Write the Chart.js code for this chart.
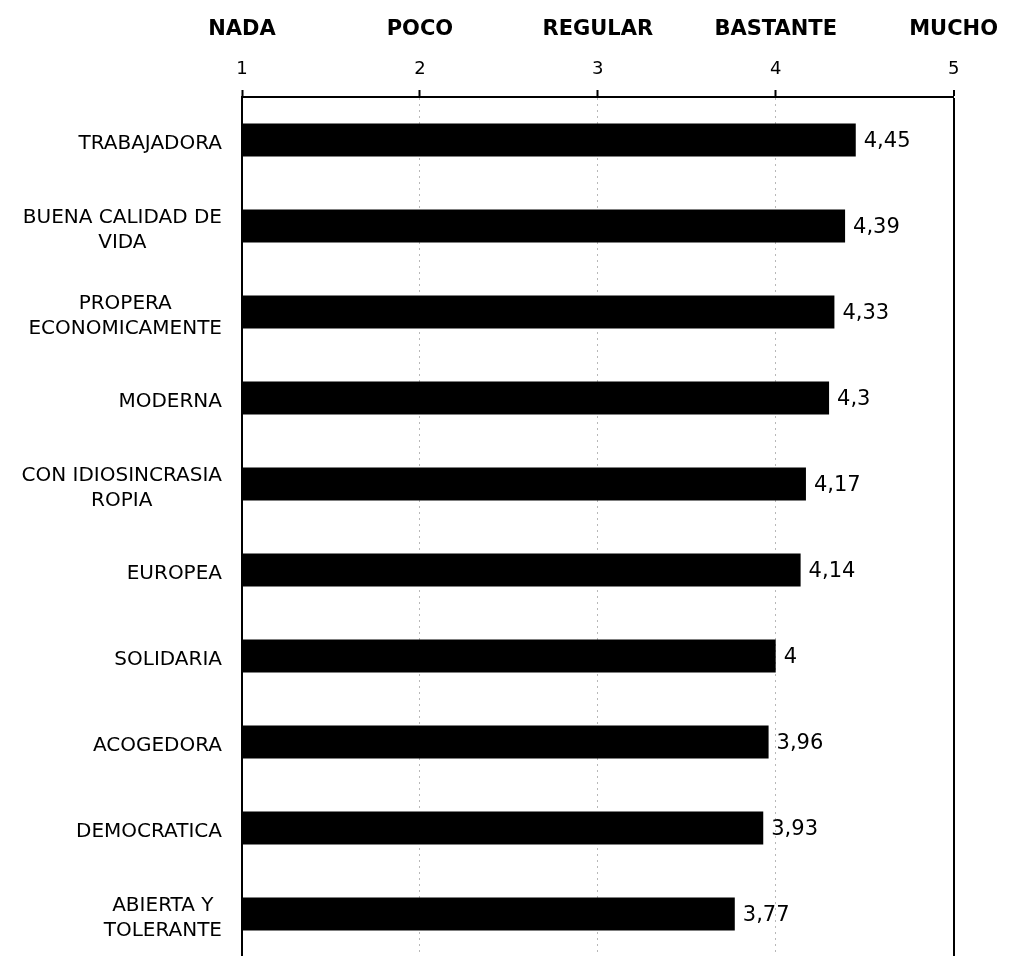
<!DOCTYPE html>
<html>
<head>
<meta charset="utf-8">
<script src="https://cdn.jsdelivr.net/npm/chart.js@4/dist/chart.umd.min.js"></script>
<style>
  html, body { margin: 0; padding: 0; background: #fff; overflow: hidden; }
  #wrap { width: 1014px; height: 957px; }
</style>
</head>
<body>
<div id="wrap"><canvas id="imagenChart"></canvas></div>
<script>
// === Chart data ===
const categories = [
  'TRABAJADORA',
  ['BUENA CALIDAD DE', 'VIDA'],
  ['PROPERA', 'ECONOMICAMENTE'],
  'MODERNA',
  ['CON IDIOSINCRASIA', 'ROPIA'],
  'EUROPEA',
  'SOLIDARIA',
  'ACOGEDORA',
  'DEMOCRATICA',
  ['ABIERTA Y', 'TOLERANTE']
];
const values = [4.45, 4.39, 4.33, 4.3, 4.17, 4.14, 4, 3.96, 3.93, 3.77];
const scaleTicks = [1, 2, 3, 4, 5];
const scaleNames = ['NADA', 'POCO', 'REGULAR', 'BASTANTE', 'MUCHO'];

const FONT = "'DejaVu Sans', Verdana, sans-serif";

document.addEventListener('DOMContentLoaded', function () {

  // === Plugin: category labels (block right aligned, lines centered) and values ===
  const labelsPlugin = {
    id: 'labelsPlugin',
    afterDraw(chart) {
      const c = chart.ctx;
      const yScale = chart.scales.y;
      c.save();
      c.fillStyle = '#000';
      c.font = '20px ' + FONT;
      c.textBaseline = 'middle';
      c.textAlign = 'center';
      const right = yScale.right - 20;
      const lineH = 25;
      chart.data.labels.forEach((lab, i) => {
        const lines = Array.isArray(lab) ? lab : [lab];
        const w = Math.max(...lines.map(l => c.measureText(l).width));
        const cx = right - w / 2;
        const y0 = yScale.getPixelForTick(i) + 4 - (lines.length - 1) * lineH / 2;
        lines.forEach((l, k) => c.fillText(l, cx, y0 + k * lineH));
      });

      // value labels at bar ends
      c.font = '21px ' + FONT;
      c.textAlign = 'left';
      const meta = chart.getDatasetMeta(0);
      meta.data.forEach((bar, i) => {
        const txt = String(values[i]).replace('.', ',');
        c.fillText(txt, bar.x + 8, bar.y + 2);
      });
      c.restore();
    }
  };

  const ctx = document.getElementById('imagenChart');
  if (ctx) {
    new Chart(ctx, {
      type: 'bar',
      data: {
        labels: categories,
        datasets: [{
          data: values,
          backgroundColor: '#000',
          borderWidth: 0,
          categoryPercentage: 1,
          barPercentage: 0.385
        }]
      },
      options: {
        indexAxis: 'y',
        responsive: true,
        maintainAspectRatio: false,
        animation: false,
        layout: { padding: { top: 17, right: 60, bottom: 0, left: 0 } },
        plugins: {
          legend: { display: false },
          tooltip: { enabled: false }
        },
        scales: {
          x: {
            position: 'top',
            weight: 0,
            min: scaleTicks[0],
            max: scaleTicks[scaleTicks.length - 1],
            afterBuildTicks: s => { s.ticks = scaleTicks.map(v => ({ value: v })); },
            afterFit: s => { s.height = 39; },
            ticks: {
              color: '#000',
              padding: 10,
              font: { family: FONT, size: 18 }
            },
            grid: {
              color: c => c.tick && c.tick.value === 5 ? '#000' : (c.tick && c.tick.value === 1 ? 'rgba(0,0,0,0)' : '#b8b8b8'),
              lineWidth: c => c.tick && c.tick.value === 5 ? 2 : 1,
              tickColor: '#000',
              tickLength: 7,
              tickWidth: 2,
              tickBorderDash: []
            },
            border: {
              display: true,
              color: '#000',
              width: 2,
              dash: c => c.tick && c.tick.value === 5 ? [] : [2, 4]
            }
          },
          x2: {
            position: 'top',
            axis: 'x',
            weight: 10,
            min: scaleTicks[0],
            max: scaleTicks[scaleTicks.length - 1],
            afterBuildTicks: s => { s.ticks = scaleTicks.map(v => ({ value: v })); },
            afterFit: s => { s.height = 41; },
            ticks: {
              color: '#000',
              padding: 16,
              font: { family: FONT, size: 21, weight: 'bold' },
              callback: v => scaleNames[scaleTicks.indexOf(v)]
            },
            grid: { display: false, drawTicks: false },
            border: { display: false }
          },
          y: {
            afterFit: s => { s.width = 242; },
            ticks: { display: false },
            grid: { display: false, drawTicks: false },
            border: { display: true, color: '#000', width: 2 }
          }
        }
      },
      plugins: [labelsPlugin]
    });
  }

});
</script>
</body>
</html>
